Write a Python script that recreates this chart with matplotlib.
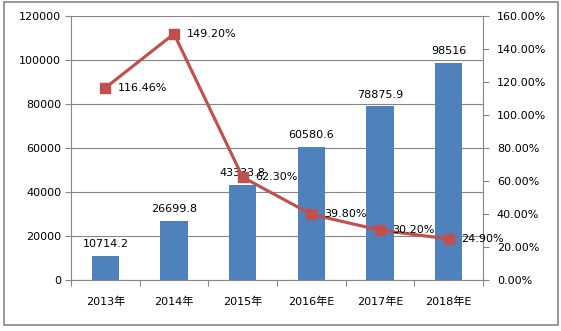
import matplotlib
matplotlib.use("Agg")
import matplotlib.pyplot as plt
from matplotlib.patches import Rectangle
from matplotlib.ticker import FuncFormatter

plt.rcParams["font.family"] = ["DejaVu Sans", "Noto Sans CJK SC"]

# 数据
years = ["2013年", "2014年", "2015年", "2016年E", "2017年E", "2018年E"]
market = [10714.2, 26699.8, 43333.8, 60580.6, 78875.9, 98516]
growth = [116.46, 149.20, 62.30, 39.80, 30.20, 24.90]
market_labels = ["10714.2", "26699.8", "43333.8", "60580.6", "78875.9", "98516"]
growth_labels = ["116.46%", "149.20%", "62.30%", "39.80%", "30.20%", "24.90%"]

GRID = "#868686"
BAR = "#4F81BD"
LINE = "#C0504D"
FS = 8

fig = plt.figure(figsize=(5.61, 3.31), dpi=100)
ax = fig.add_axes([71 / 561, 51 / 331, 412 / 561, 264 / 331])
ax2 = ax.twinx()

x = list(range(len(years)))

# 柱状图
ax.bar(x, market, width=0.4, color=BAR, zorder=2)
ax.set_ylim(0, 120000)
ax.set_yticks(range(0, 120001, 20000))
ax.set_xlim(-0.5, len(years) - 0.5)
ax.grid(axis="y", color=GRID, linewidth=0.8, zorder=0)
ax.set_axisbelow(True)
for xi, v, lab in zip(x, market, market_labels):
    ax.annotate(lab, (xi, v), xytext=(0, 5), textcoords="offset points",
                ha="center", va="bottom", fontsize=FS)

# x 轴刻度放在类别之间
ax.set_xticks([i - 0.5 for i in range(len(years) + 1)])
ax.set_xticklabels([])
ax.set_xticks(x, minor=True)
ax.set_xticklabels(years, minor=True, fontsize=FS)
ax.tick_params(axis="x", which="minor", length=0, pad=12)
ax.tick_params(axis="x", which="major", length=4, color=GRID, direction="out")
ax.tick_params(axis="y", length=4, color=GRID, labelsize=FS, pad=3)

# 增长率折线
ax2.plot(x, growth, color=LINE, linewidth=2.25, marker="s", markersize=7.5,
         zorder=3)
ax2.set_ylim(0, 160)
ax2.set_yticks(range(0, 161, 20))
ax2.yaxis.set_major_formatter(FuncFormatter(lambda v, p: f"{v:.2f}%"))
ax2.tick_params(axis="y", length=4, color=GRID, labelsize=FS, pad=6)
for xi, v, lab in zip(x, growth, growth_labels):
    ax2.annotate(lab, (xi, v), xytext=(9, 0), textcoords="offset points",
                 ha="left", va="center", fontsize=FS)

for a in (ax, ax2):
    for side in ("left", "right", "bottom"):
        a.spines[side].set_color(GRID)
    a.spines["top"].set_visible(False)
ax.spines["right"].set_visible(False)
ax2.spines["left"].set_visible(False)
ax2.spines["bottom"].set_visible(False)

# 外框
fig.patches.append(Rectangle((4 / 561, 6 / 331), 554 / 561, 323 / 331,
                             transform=fig.transFigure, fill=False,
                             edgecolor=GRID, linewidth=1.2))

fig.savefig("out.png", dpi=100)
